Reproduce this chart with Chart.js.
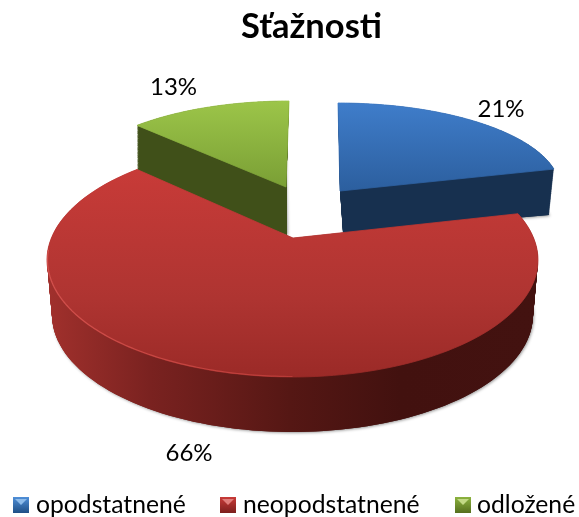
<!DOCTYPE html>
<html><head><meta charset="utf-8">
<style>html,body{margin:0;padding:0;background:#fff}canvas{display:block}</style>
<script src="https://cdn.jsdelivr.net/npm/chart.js@4"></script>
</head><body><canvas id="c" width="579" height="517"></canvas>
<script>
const chartTitle = 'Sťažnosti';
const categories = ['opodstatnené', 'neopodstatnené', 'odložené'];
const shares = [21, 66, 13];

// 3D look of each slice (view geometry, not data)
const drawOrder = [2, 0, 1];
const views = [
  {top:{ax:340,ay:191,cx:338,cy:189,rx:222,ry:86}, bot:{ax:343,ay:233,cx:341,cy:235,rx:214,ry:86}, bend:[0,1],
   face:[[103,'#3f7dca'],[190,'#2c5f9f']], side:[[343,'#17304f'],[549,'#17304f']]},
  {top:{ax:293,ay:238,cx:292.5,cy:260,rx:245.5,ry:117}, bot:{ax:293,ay:293,cx:292.5,cy:315,rx:240.5,ry:117}, bend:[-8.9,7.5],
   face:[[169,'#c83b38'],[300,'#ae3431'],[377,'#9b2a27']], side:[[50,'#a0302c'],[150,'#7a2220'],[290,'#551714'],[400,'#42110f'],[535,'#431210']]},
  {top:{ax:286,ay:187,cx:289,cy:189,rx:220,ry:88}, bot:{ax:287,ay:235,cx:285,cy:237,rx:214,ry:86}, bend:[3.1,0],
   face:[[101,'#9cc549'],[187,'#7a9f35']], side:[[139,'#405019'],[287,'#405019']]}
];
const labelSpots = [[501,117],[189,461],[173.5,95]];
const legendSpots = [[13,36],[220,243],[455,477]];
const legendTop = 497, legendBaseline = 513;
const swatchColors = [['#1f4f86','#4f8fd8','#8dbbea'],['#7c1f1d','#c83b38','#e07e7b'],['#566f1e','#8cb33f','#c2d985']];

function lerp(a,b,s){return a+(b-a)*s;}
function wedge(ctx, v, a0, a1, s) {
  const g = k => lerp(v.bot[k], v.top[k], s);
  ctx.beginPath();
  ctx.moveTo(g('ax'), g('ay'));
  const n = 120;
  for (let i=0;i<=n;i++){
    const f=i/n, t=lerp(a0,a1,f)+lerp(v.bend[0],v.bend[1],f)*Math.PI/180;
    ctx.lineTo(g('cx')+g('rx')*Math.sin(t), g('cy')-g('ry')*Math.cos(t));
  }
  ctx.closePath();
}
const pie3d = {
  id:'pie3d',
  beforeDatasetDraw(chart,args){
    const ctx=chart.ctx, arcs=chart.getDatasetMeta(args.index).data;
    drawOrder.forEach(i=>{
      const v=views[i], a0=arcs[i].startAngle+Math.PI/2, a1=arcs[i].endAngle+Math.PI/2;
      const x0=v.side[0][0], x1=v.side[v.side.length-1][0];
      const sg=ctx.createLinearGradient(x0,0,x1,0);
      v.side.forEach(p=>sg.addColorStop((p[0]-x0)/(x1-x0),p[1]));
      ctx.save();
      ctx.shadowColor='rgba(0,0,0,0.4)';ctx.shadowBlur=3;ctx.shadowOffsetX=1;ctx.shadowOffsetY=1;
      ctx.fillStyle=sg;wedge(ctx,v,a0,a1,0);ctx.fill();
      ctx.restore();
      ctx.fillStyle=sg;
      for(let k=0;k<=70;k++){wedge(ctx,v,a0,a1,k/70);ctx.fill();}
      const y0=v.face[0][0], y1=v.face[v.face.length-1][0];
      const fg=ctx.createLinearGradient(0,y0,0,y1);
      v.face.forEach(p=>fg.addColorStop((p[0]-y0)/(y1-y0),p[1]));
      ctx.fillStyle=fg;ctx.strokeStyle=fg;ctx.lineWidth=0.8;ctx.lineJoin='round';
      wedge(ctx,v,a0,a1,1);ctx.fill();ctx.stroke();
      if(i===1){ // light bevel along the front rim
        const rg=ctx.createLinearGradient(47,0,420,0);
        rg.addColorStop(0,'rgba(214,84,80,0.9)');rg.addColorStop(0.6,'rgba(205,70,66,0.7)');rg.addColorStop(1,'rgba(190,60,56,0)');
        ctx.strokeStyle=rg;ctx.lineWidth=1.2;ctx.beginPath();
        for(let d=180;d<=275;d+=1){const t=d*Math.PI/180;
          const x=v.top.cx+(v.top.rx-0.5)*Math.sin(t),y=v.top.cy-(v.top.ry-0.5)*Math.cos(t);
          d===180?ctx.moveTo(x,y):ctx.lineTo(x,y);}
        ctx.stroke();
      }
    });
    return false;
  },
  afterDraw(chart){
    const ctx=chart.ctx;
    ctx.save();ctx.fillStyle='#000';ctx.textBaseline='alphabetic';
    ctx.font='24px Lato';ctx.textAlign='center';
    shares.forEach((s,i)=>ctx.fillText(s+'%',labelSpots[i][0],labelSpots[i][1]));
    ctx.font='24.7px Lato';ctx.textAlign='left';
    categories.forEach((t,i)=>{
      ctx.drawImage(swatches[i],legendSpots[i][0],legendTop);
      ctx.fillText(t,legendSpots[i][1],legendBaseline);
    });
    ctx.restore();
  }
};
function swatch(cols){
  const c=document.createElement('canvas');c.width=16;c.height=16;const x=c.getContext('2d');
  const g=x.createLinearGradient(0,0,0,16);g.addColorStop(0,cols[1]);g.addColorStop(1,cols[0]);
  x.fillStyle=g;x.fillRect(0,0,16,16);
  x.fillStyle=cols[2];x.beginPath();x.moveTo(2,2);x.lineTo(14,2);x.lineTo(8,8);x.closePath();x.fill();
  return c;
}
const swatches=swatchColors.map(swatch);
new Chart(document.getElementById('c'),{
  type:'pie',
  data:{labels:categories,datasets:[{data:shares,backgroundColor:['#3f7dca','#c83b38','#8cb33f']}]},
  options:{
    responsive:false,animation:false,events:[],
    layout:{padding:{left:44}},
    plugins:{
      tooltip:{enabled:false},
      legend:{display:false},
      title:{display:true,text:chartTitle,color:'#000',font:{family:'Lato',size:34.5,weight:'bold'},padding:{top:6,bottom:10}}
    }
  },
  plugins:[pie3d]
});
</script></body></html>
